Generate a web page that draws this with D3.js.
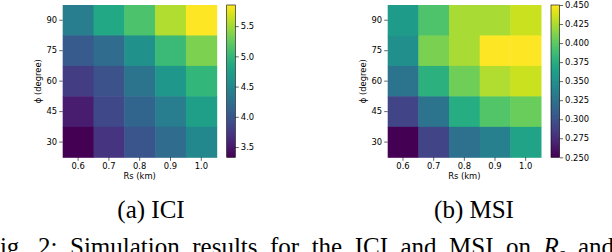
<!DOCTYPE html>
<html>
<head>
<meta charset="utf-8">
<script src="https://cdn.jsdelivr.net/npm/d3@7"></script>
<style>
  body { margin: 0; background: #fff; }
  svg text { font-family: "DejaVu Sans", sans-serif; }
  .caption { font-family: "Liberation Serif", serif !important; font-size: 25px; }
</style>
</head>
<body>
<svg id="fig" width="612" height="252"></svg>
<script>
// shared axes
const rsValues = ["0.6", "0.7", "0.8", "0.9", "1.0"];
const phiValues = ["90", "75", "60", "45", "30"];

// rows top->bottom (phi 90..30), columns Rs 0.6..1.0
const iciValues = [
	[4.39, 4.84, 5.14, 5.55, 5.85],
	[4.04, 4.21, 4.59, 5.04, 5.35],
	[3.78, 3.96, 4.29, 4.67, 4.99],
	[3.53, 3.88, 4.14, 4.39, 4.74],
	[3.33, 3.71, 3.99, 4.21, 4.51],
];
const msiValues = [
	[0.36, 0.394, 0.424, 0.424, 0.434],
	[0.35, 0.41, 0.424, 0.45, 0.45],
	[0.326, 0.378, 0.406, 0.426, 0.434],
	[0.29, 0.326, 0.374, 0.396, 0.404],
	[0.25, 0.29, 0.324, 0.336, 0.366],
];
const iciTicks = [3.5, 4.0, 4.5, 5.0, 5.5];
const msiTicks = [0.25, 0.275, 0.3, 0.325, 0.35, 0.375, 0.4, 0.425, 0.45];
const captions = ["(a) ICI", "(b) MSI"];
const figCaption = "Fig. 2: Simulation results for the ICI and MSI on ";
const fs = 8.4;

const svg = d3.select("#fig");

const panels = [
	{ data: iciValues, domain: [3.33, 5.85], ticks: iciTicks, fmt: d3.format(".1f"),
	  x0: 62.7, x1: 216.7, cbx: 226.7, caption: captions[0], capX: 151 },
	{ data: msiValues, domain: [0.25, 0.45], ticks: msiTicks, fmt: d3.format(".3f"),
	  x0: 387.7, x1: 541, cbx: 551, caption: captions[1], capX: 474 },
];
const plotTop = 5, plotBottom = 157.3, cbw = 8.6;

panels.forEach((p) => {
	const g = svg.append("g");
	const x = d3.scaleBand().domain(rsValues).range([p.x0, p.x1]);
	const y = d3.scaleBand().domain(phiValues).range([plotTop, plotBottom]);
	const color = d3.scaleSequential(d3.interpolateViridis).domain(p.domain);

	const cells = [];
	p.data.forEach((row, i) => row.forEach((v, j) => cells.push({ r: phiValues[i], c: rsValues[j], v: v })));

	g.selectAll("rect.cell")
		.data(cells)
		.join("rect")
		.attr("class", "cell")
		.attr("x", (d) => x(d.c))
		.attr("y", (d) => y(d.r))
		.attr("width", x.bandwidth() + 0.5)
		.attr("height", y.bandwidth() + 0.5)
		.attr("fill", (d) => color(d.v));

	const xAxis = g.append("g")
		.attr("transform", `translate(0,${plotBottom})`)
		.call(d3.axisBottom(x).tickSize(3.5).tickPadding(2));
	const yAxis = g.append("g")
		.attr("transform", `translate(${p.x0},0)`)
		.call(d3.axisLeft(y).tickSize(3.5).tickPadding(2));
	[xAxis, yAxis].forEach((a) => {
		a.select(".domain").remove();
		a.selectAll("text").attr("font-size", fs).attr("fill", "#000").attr("font-family", "DejaVu Sans");
		a.selectAll("line").attr("stroke", "#000").attr("stroke-width", 0.6);
	});

	g.append("text")
		.attr("x", (p.x0 + p.x1) / 2)
		.attr("y", 178.5)
		.attr("text-anchor", "middle")
		.attr("font-size", fs)
		.text("Rs (km)");
	g.append("text")
		.attr("transform", `translate(${p.x0 - 22},${(plotTop + plotBottom) / 2}) rotate(-90)`)
		.attr("text-anchor", "middle")
		.attr("font-size", fs)
		.text("ϕ (degree)");

	// colorbar
	const cb = d3.scaleLinear().domain(p.domain).range([plotBottom, plotTop]);
	const defs = svg.append("defs");
	const gradId = "grad" + Math.round(p.cbx);
	const grad = defs.append("linearGradient").attr("id", gradId)
		.attr("x1", 0).attr("y1", 1).attr("x2", 0).attr("y2", 0);
	d3.range(0, 1.001, 0.05).forEach((t) => {
		grad.append("stop").attr("offset", t).attr("stop-color", d3.interpolateViridis(t));
	});
	g.append("rect")
		.attr("x", p.cbx).attr("y", plotTop)
		.attr("width", cbw).attr("height", plotBottom - plotTop)
		.attr("fill", `url(#${gradId})`)
		.attr("stroke", "#000").attr("stroke-width", 0.6);
	const cbAxis = g.append("g")
		.attr("transform", `translate(${p.cbx + cbw},0)`)
		.call(d3.axisRight(cb).tickValues(p.ticks).tickFormat(p.fmt).tickSize(3.5).tickPadding(2));
	cbAxis.select(".domain").remove();
	cbAxis.selectAll("text").attr("font-size", fs).attr("fill", "#000").attr("font-family", "DejaVu Sans");
	cbAxis.selectAll("line").attr("stroke", "#000").attr("stroke-width", 0.6);

	svg.append("text")
		.attr("class", "caption")
		.attr("x", p.capX)
		.attr("y", 218)
		.attr("text-anchor", "middle")
		.text(p.caption);
});

// bottom caption line, justified and cut by the picture edge as in the source
const fc = svg.append("text")
	.attr("class", "caption")
	.attr("x", -14)
	.attr("y", 255);
fc.append("tspan").text(figCaption);
fc.append("tspan").attr("font-style", "italic").text("R");
fc.append("tspan").attr("font-size", 17).attr("dy", 4).attr("font-style", "italic").text("s");
fc.append("tspan").attr("dy", -4).text(" and");
const natural = fc.node().getComputedTextLength();
const gaps = 11;
fc.attr("word-spacing", Math.max(0, (614 + 14 - natural) / gaps));
</script>
</body>
</html>
